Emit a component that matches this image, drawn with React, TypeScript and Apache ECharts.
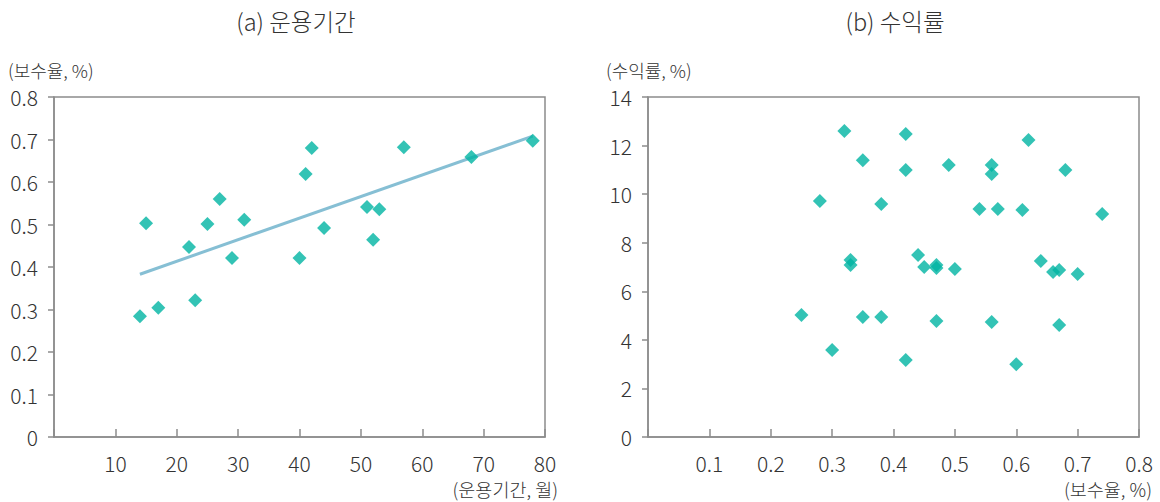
import React, { useEffect, useRef } from "react";
import * as echarts from "echarts";

// (a) 운용기간 vs 보수율
const periodMonths = [14, 15, 17, 22, 23, 25, 27, 29, 31, 40, 41, 42, 44, 51, 52, 53, 57, 68, 78];
const feeRateA = [0.284, 0.503, 0.304, 0.447, 0.322, 0.501, 0.56, 0.421, 0.511, 0.421, 0.619, 0.68, 0.492, 0.541, 0.464, 0.536, 0.682, 0.659, 0.697];
const trendX = [14, 78];
const trendY = [0.383, 0.708];

// (b) 보수율 vs 수익률
const feeRateB = [0.32, 0.42, 0.62, 0.35, 0.42, 0.49, 0.56, 0.56, 0.68, 0.28, 0.38, 0.54, 0.57, 0.61, 0.74, 0.33, 0.33, 0.44, 0.45, 0.47, 0.47, 0.5, 0.64, 0.66, 0.67, 0.7, 0.25, 0.35, 0.38, 0.47, 0.56, 0.67, 0.3, 0.42, 0.6];
const returnB = [12.6, 12.48, 12.23, 11.4, 10.99, 11.2, 11.2, 10.83, 10.99, 9.72, 9.59, 9.39, 9.39, 9.35, 9.18, 7.29, 7.08, 7.49, 7.0, 7.08, 6.96, 6.92, 7.25, 6.79, 6.88, 6.71, 5.02, 4.94, 4.94, 4.78, 4.74, 4.61, 3.58, 3.17, 3.0];

const titles = ["(a) 운용기간", "(b) 수익률"];
const yNames = ["(보수율, %)", "(수익률, %)"];
const xNames = ["(운용기간, 월)", "(보수율, %)"];

const FONT = '"Noto Sans CJK KR", "Noto Sans", sans-serif';
const TEXT = "#333333";
const AXIS = "#8c8c8c";
const TEAL = "#00b4a2";
const LINE = "#86bfd4";

export default function App() {
  const ref = useRef<HTMLDivElement>(null);
  useEffect(() => {
    if (!ref.current) return;
    const chart = echarts.init(ref.current, null, { renderer: "svg" });
    const axisCommon = {
      axisLine: { show: true, lineStyle: { color: AXIS, width: 1.5 } },
      splitLine: { show: false },
      axisLabel: { color: TEXT, fontSize: 21, fontFamily: FONT, fontWeight: 300 },
    };
    const xAxis = (max: number, interval: number, dec: boolean) => ({
      type: "value",
      min: 0,
      max,
      interval,
      ...axisCommon,
      axisTick: { show: true, inside: true, length: 8, lineStyle: { color: AXIS, width: 1.5 } },
      axisLabel: {
        ...axisCommon.axisLabel,
        margin: 15,
        formatter: (v: number) => (v === 0 ? "" : dec ? v.toFixed(1) : String(v)),
      },
    });
    const yAxis = (max: number, interval: number, dec: boolean, margin: number) => ({
      type: "value",
      min: 0,
      max,
      interval,
      ...axisCommon,
      axisTick: { show: true, inside: false, length: 6, lineStyle: { color: AXIS, width: 1.5 } },
      axisLabel: {
        ...axisCommon.axisLabel,
        margin,
        formatter: (v: number) => (v === 0 ? "0" : dec ? v.toFixed(1) : String(v)),
      },
    });
    const txt = (x: number, y: number, text: string, size: number, align: string) => ({
      type: "text",
      x,
      y,
      style: {
        text,
        fill: TEXT,
        fontSize: size,
        fontFamily: FONT,
        fontWeight: 300,
        textAlign: align,
        textVerticalAlign: "middle",
      },
    });
    chart.setOption({
      animation: false,
      backgroundColor: "#ffffff",
      grid: [
        { left: 54, top: 97, width: 491, height: 340, show: true, borderColor: AXIS, borderWidth: 1.5 },
        { left: 648, top: 97, width: 491, height: 340, show: true, borderColor: AXIS, borderWidth: 1.5 },
      ],
      xAxis: [
        { ...xAxis(80, 10, false), gridIndex: 0 },
        { ...xAxis(0.8, 0.1, true), gridIndex: 1 },
      ],
      yAxis: [
        { ...yAxis(0.8, 0.1, true, 16), gridIndex: 0 },
        { ...yAxis(14, 2, false, 16), gridIndex: 1 },
      ],
      series: [
        {
          type: "line",
          xAxisIndex: 0,
          yAxisIndex: 0,
          data: trendX.map((x, i) => [x, trendY[i]]),
          symbol: "none",
          lineStyle: { color: LINE, width: 3 },
          z: 1,
        },
        {
          type: "scatter",
          xAxisIndex: 0,
          yAxisIndex: 0,
          data: periodMonths.map((x, i) => [x, feeRateA[i]]),
          symbol: "diamond",
          symbolSize: 14,
          itemStyle: { color: TEAL },
          z: 2,
        },
        {
          type: "scatter",
          xAxisIndex: 1,
          yAxisIndex: 1,
          data: feeRateB.map((x, i) => [x, returnB[i]]),
          symbol: "diamond",
          symbolSize: 14,
          itemStyle: { color: TEAL },
          z: 2,
        },
      ],
      graphic: [
        txt(296, 21, titles[0], 23.5, "center"),
        txt(895, 21, titles[1], 23.5, "center"),
        txt(8, 70, yNames[0], 18, "left"),
        txt(606, 70, yNames[1], 18, "left"),
        txt(558, 489, xNames[0], 18.5, "right"),
        txt(1152, 489, xNames[1], 18.5, "right"),
      ],
    });
    return () => chart.dispose();
  }, []);
  return (
    <div
      ref={ref}
      style={{ position: "fixed", left: 0, top: 0, width: 1160, height: 502, background: "#fff" }}
    />
  );
}
